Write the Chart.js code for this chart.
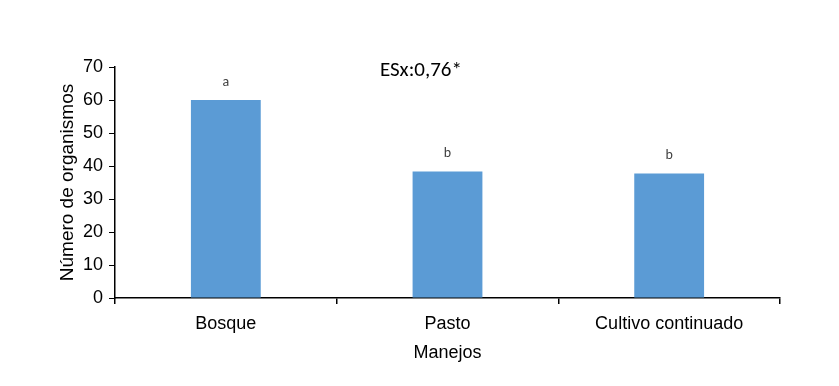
<!DOCTYPE html>
<html>
<head>
<meta charset="utf-8">
<script src="https://cdn.jsdelivr.net/npm/chart.js@4.4.0/dist/chart.umd.min.js"></script>
<style>
  html, body { margin: 0; padding: 0; background: #fff; }
  #wrap { width: 839px; height: 386px; }
</style>
</head>
<body>
<div id="wrap"><canvas id="chart"></canvas></div>
<script>
const categories = ['Bosque', 'Pasto', 'Cultivo continuado'];
const organismos = [60, 38.3, 37.7];
const letters = ['a', 'b', 'b'];
const yTicks = [0, 10, 20, 30, 40, 50, 60, 70];
const noteText = 'ESx:0,76*';

// letras sobre las barras + nota ESx
const labelsPlugin = {
    id: 'labelsPlugin',
    afterDatasetsDraw(chart) {
        const {ctx, chartArea} = chart;
        const meta = chart.getDatasetMeta(0);
        ctx.save();
        ctx.fillStyle = '#404040';
        ctx.font = '14px Carlito, Lato, sans-serif';
        ctx.textAlign = 'center';
        ctx.textBaseline = 'middle';
        meta.data.forEach((bar, i) => {
            ctx.fillText(letters[i], bar.x, bar.y - 18);
        });
        ctx.fillStyle = '#000';
        ctx.font = '21px Carlito, Lato, sans-serif';
        ctx.fillText(noteText, chartArea.left + chartArea.width * 0.46, chartArea.top + 4);
        ctx.restore();
    }
};

const axisFont = {family: '"Liberation Sans", Arial, sans-serif', size: 18};

new Chart(document.getElementById('chart'), {
    type: 'bar',
    data: {
        labels: categories,
        datasets: [{
            data: organismos,
            backgroundColor: '#5B9BD5',
            borderWidth: 0,
            categoryPercentage: 1,
            barPercentage: 0.315
        }]
    },
    options: {
        responsive: true,
        maintainAspectRatio: false,
        animation: false,
        layout: { padding: {top: 67, right: 59, left: 0, bottom: 0} },
        plugins: {
            legend: { display: false },
            tooltip: { enabled: false }
        },
        scales: {
            x: {
                grid: { display: true, drawOnChartArea: false, drawTicks: true, tickLength: 6, color: '#000', lineWidth: 1.5 },
                border: { color: '#000', width: 1.5 },
                ticks: { color: '#000', font: axisFont, padding: 9, maxRotation: 0 },
                title: { display: true, text: 'Manejos', color: '#000', font: axisFont, padding: {top: 0, bottom: 22} },
                afterFit(scale) { scale.height = 88; }
            },
            y: {
                min: 0,
                max: 70,
                afterBuildTicks(scale) { scale.ticks = yTicks.map(v => ({value: v})); },
                grid: { display: true, drawOnChartArea: false, drawTicks: true, tickLength: 6, color: '#000', lineWidth: 1 },
                border: { color: '#000', width: 1.5 },
                ticks: { color: '#000', font: axisFont, padding: 6 },
                title: { display: true, text: 'Número de organismos', color: '#000', font: {family: '"Liberation Sans", Arial, sans-serif', size: 19}, padding: {top: 56, bottom: 0} },
                afterFit(scale) { scale.width = 115; }
            }
        }
    },
    plugins: [labelsPlugin]
});
</script>
</body>
</html>
